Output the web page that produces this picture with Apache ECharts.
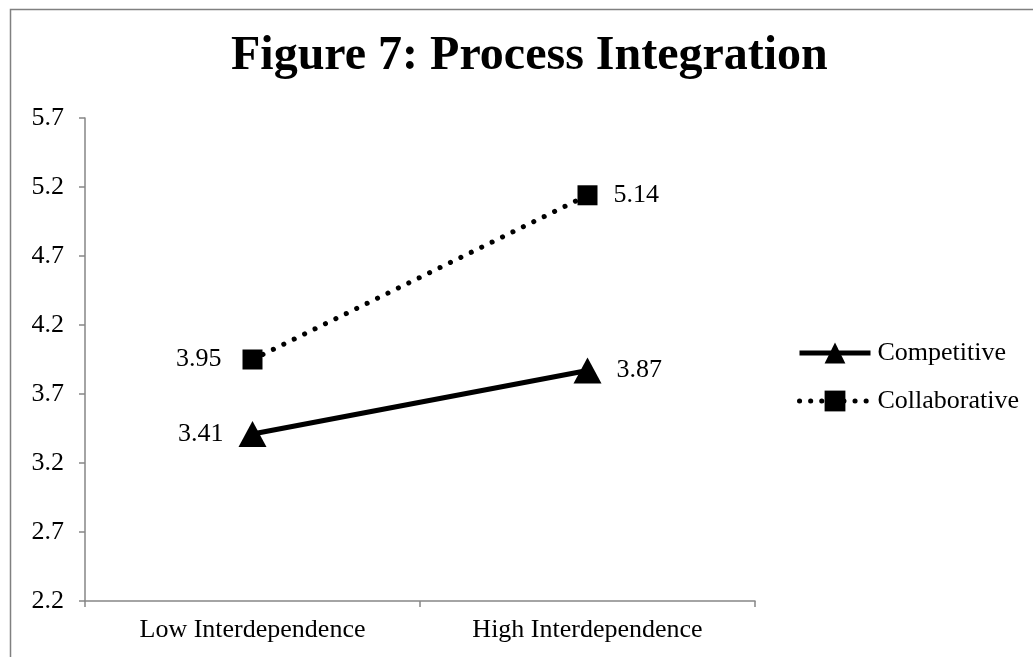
<!DOCTYPE html>
<html>
<head>
<meta charset="utf-8">
<script src="https://cdn.jsdelivr.net/npm/echarts@6/dist/echarts.min.js"></script>
<style>html,body{margin:0;padding:0;background:#fff}#c{width:1033px;height:657px}</style>
</head>
<body>
<div id="c"></div>
<script>
const titleText = 'Figure 7: Process Integration';
const categories = ['Low Interdependence', 'High Interdependence'];
const seriesNames = ['Competitive', 'Collaborative'];
const competitive = [3.41, 3.87];
const collaborative = [3.95, 5.14];
const yMin = 2.2, yMax = 5.7, yInterval = 0.5;

const FONT = '"Liberation Serif", "Times New Roman", serif';
const fmt2 = p => Number(p.value).toFixed(2);
const chart = echarts.init(document.getElementById('c'), null, { renderer: 'canvas' });
chart.setOption({
  backgroundColor: '#fff',
  animation: false,
  title: {
    text: titleText, left: 226, top: 28,
    textStyle: { fontFamily: FONT, fontSize: 48, fontWeight: 'bold', color: '#000' }
  },
  graphic: [{
    type: 'rect', shape: { x: 10.5, y: 9.5, width: 1200, height: 1000 },
    style: { fill: null, stroke: '#808080', lineWidth: 1.5 }, silent: true
  }],
  grid: { left: 85, right: 278, top: 118, bottom: 56, containLabel: false, outerBoundsMode: 'none' },
  legend: {
    orient: 'vertical', left: 797, top: 340, itemGap: 22, padding: 0,
    itemWidth: 71, itemHeight: 26,
    textStyle: { fontFamily: FONT, fontSize: 26, color: '#000', padding: [0, 0, 0, 2] },
    data: [
      { name: seriesNames[0], itemStyle: { color: '#000' }, lineStyle: { color: '#000', width: 5 } },
      { name: seriesNames[1], itemStyle: { color: '#000' }, lineStyle: { color: '#000', width: 5, type: [0.1, 11], cap: 'round' } }
    ]
  },
  xAxis: {
    type: 'category', data: categories, boundaryGap: true,
    axisLine: { lineStyle: { color: '#868686', width: 1.5 } },
    axisTick: { show: true, length: 6, lineStyle: { color: '#868686', width: 1.5 } },
    axisLabel: { fontFamily: FONT, fontSize: 26, color: '#000', margin: 16 },
    splitLine: { show: false }
  },
  yAxis: {
    type: 'value', min: yMin, max: yMax, interval: yInterval,
    axisLine: { show: true, lineStyle: { color: '#868686', width: 1.5 } },
    axisTick: { show: true, length: 6, lineStyle: { color: '#868686', width: 1.5 } },
    axisLabel: { fontFamily: FONT, fontSize: 26, color: '#000', margin: 21,
      formatter: v => v.toFixed(1) },
    splitLine: { show: false }
  },
  series: [
    {
      name: seriesNames[0], type: 'line',
      data: [
        { value: competitive[0], label: { position: 'left', distance: 15 } },
        { value: competitive[1], label: { position: 'right', distance: 15 } }
      ],
      symbol: 'triangle', symbolSize: [28, 26],
      itemStyle: { color: '#000' },
      lineStyle: { color: '#000', width: 5 },
      label: { show: true, fontFamily: FONT, fontSize: 26, color: '#000', formatter: fmt2 }
    },
    {
      name: seriesNames[1], type: 'line',
      data: [
        { value: collaborative[0], label: { position: 'left', distance: 21 } },
        { value: collaborative[1], label: { position: 'right', distance: 16 } }
      ],
      symbol: 'rect', symbolSize: 20,
      itemStyle: { color: '#000' },
      lineStyle: { color: '#000', width: 5, type: [0.1, 11.5], cap: 'round' },
      label: { show: true, fontFamily: FONT, fontSize: 26, color: '#000', formatter: fmt2 }
    }
  ]
});
</script>
</body>
</html>
